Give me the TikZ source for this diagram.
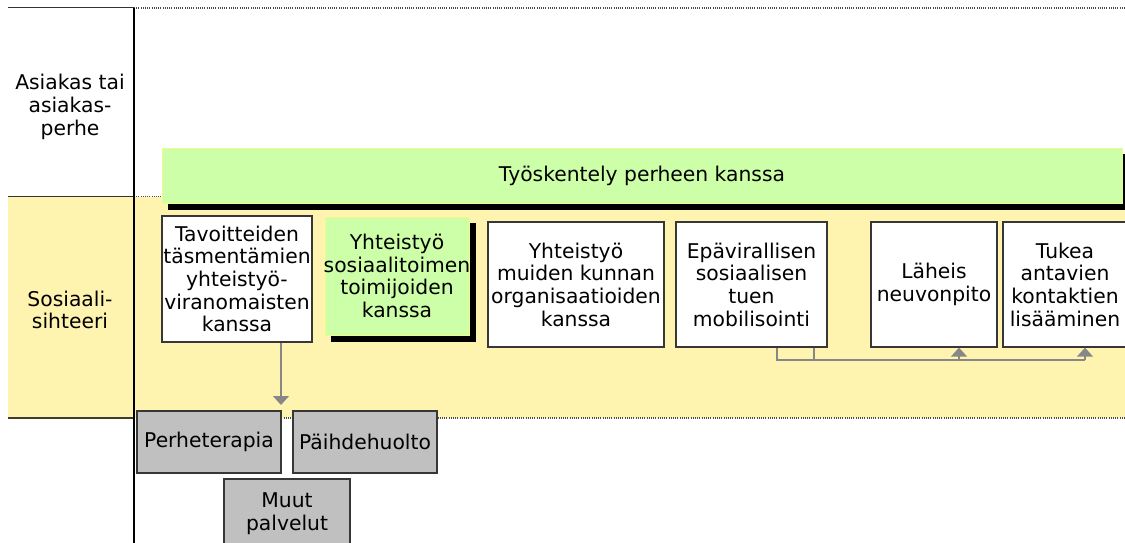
\documentclass[tikz,border=0pt]{standalone}
\usepackage{fontspec}
\setmainfont{DejaVu Sans}
\usetikzlibrary{arrows.meta}
\definecolor{bandyellow}{RGB}{255,243,176}
\definecolor{lgreen}{RGB}{204,255,168}
\definecolor{greenedge}{RGB}{240,250,140}
\definecolor{boxedge}{RGB}{55,55,55}
\definecolor{conngray}{RGB}{135,135,135}
\definecolor{svcgray}{RGB}{192,192,192}
\tikzset{
  lbl/.style={font=\fontsize{20.3}{22.7}\selectfont, align=center, inner sep=0pt},
  whitebox/.style={lbl, draw=boxedge, line width=1.3pt, fill=white},
  greenbox/.style={lbl, draw=greenedge, line width=1pt, fill=lgreen},
  svcbox/.style={lbl, draw=boxedge, line width=1.3pt, fill=svcgray},
  shadowbox/.style={fill=black, draw=none, inner sep=0pt},
  conn/.style={draw=conngray, line width=1.5pt},
  connarrow/.style={conn, -{Triangle[width=16pt,length=9pt]}, conngray},
  solidrule/.style={draw=black!80, line width=1pt},
  dotrule/.style={draw=black!70, line width=1.3pt, dash pattern=on 1pt off 1.2pt},
}
\begin{document}
\begin{tikzpicture}[x=1pt,y=-1pt]
\useasboundingbox (0,0) rectangle (1125,543);
\begin{scope}
\clip (0,0) rectangle (1125,543);
% yellow band
\fill[bandyellow] (8,197) rectangle (1125,418);
% rules
\draw[solidrule] (8,8) -- (134,8);
\draw[dotrule] (134,8) -- (1125,8);
\draw[solidrule] (8,196.5) -- (134,196.5);
\draw[dotrule] (134,196.5) -- (165,196.5);
\draw[solidrule, draw=black!75!bandyellow, line width=1.3pt] (8,418) -- (134,418);
\draw[dotrule] (134,418) -- (1125,418);
\draw[draw=black, line width=1.1pt] (134,8) -- (134,543);

% left labels
\node[lbl] (asiakas) at (70,107) {Asiakas tai\\asiakas-\\perhe};
\node[lbl] (sosiaali) at (70,310) {Sosiaali-\\sihteeri};

% green band with shadow
\node[shadowbox, minimum width=960pt, minimum height=56pt] (bandshadow) at (648,182) {};
\node[greenbox, minimum width=960pt, minimum height=55pt] (band) at (642,175.5) {Työskentely perheen kanssa};

% boxes
\node[whitebox, minimum width=150pt, minimum height=126pt] (b1) at (237,279) {Tavoitteiden\\täsmentämien\\yhteistyö-\\viranomaisten\\kanssa};
\node[shadowbox, minimum width=145pt, minimum height=119pt] (b2s) at (403.5,282.5) {};
\node[greenbox, minimum width=144pt, minimum height=118pt] (b2) at (397,276) {Yhteistyö\\\makebox[140pt]{sosiaalitoimen}\\toimijoiden\\kanssa};
\node[whitebox, minimum width=176pt, minimum height=125pt] (b3) at (576,284.5) {Yhteistyö\\muiden kunnan\\organisaatioiden\\kanssa};
\node[whitebox, minimum width=151pt, minimum height=125pt] (b4) at (751.5,284.5) {Epävirallisen\\sosiaalisen\\tuen\\mobilisointi};
\node[whitebox, minimum width=126pt, minimum height=125pt] (b5) at (934,284.5) {Läheis\\neuvonpito};
\node[whitebox, minimum width=124pt, minimum height=125pt] (b6) at (1065,284.5) {Tukea\\antavien\\kontaktien\\lisääminen};

% service boxes
\node[svcbox, minimum width=144pt, minimum height=62pt] (s1) at (209,442) {Perheterapia};
\node[svcbox, minimum width=144pt, minimum height=62pt] (s2) at (365,442) {Päihdehuolto};
\node[svcbox, minimum width=126pt, minimum height=69pt] (s3) at (287,513.5) {Muut\\palvelut};

% connectors
\coordinate (a1) at (281,405);
\draw[connarrow] (a1 |- b1.south) -- (a1);
\coordinate (hL) at (777,360);
\coordinate (hM) at (814,360);
\coordinate (h5) at (959,360);
\coordinate (h6) at (1085,360);
\draw[conn] (hL |- b4.south) -- (hL) -- (h6);
\draw[conn] (hM |- b4.south) -- (hM);
\draw[connarrow] (h5) -- (h5 |- b5.south);
\draw[connarrow] (h6) -- (h6 |- b6.south);
\end{scope}
\end{tikzpicture}
\end{document}
